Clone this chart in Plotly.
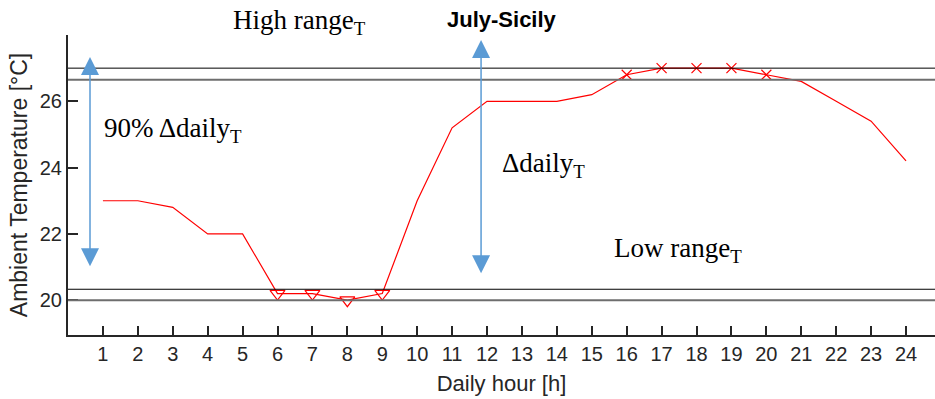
import plotly.graph_objects as go

hours = list(range(1, 25))
temps = [23.0, 23.0, 22.8, 22.0, 22.0, 20.2, 20.2, 20.0, 20.2, 23.0, 25.2, 26.0,
         26.0, 26.0, 26.2, 26.8, 27.0, 27.0, 27.0, 26.8, 26.6, 26.0, 25.4, 24.2]
low_hours = [6, 7, 8, 9]
high_hours = [16, 17, 18, 19, 20]
band_black = [27.0, 20.33]
band_gray = [26.65, 20.0]
arrow_x = [0.63, 11.83]
arrow_top = [27.34, 27.85]
arrow_bottom = [20.98, 20.77]
ytick_vals = [20, 22, 24, 26]

low_vals = [temps[h - 1] for h in low_hours]
high_vals = [temps[h - 1] for h in high_hours]

fig = go.Figure()
fig.add_trace(go.Scatter(x=hours, y=temps, mode="lines",
                         line=dict(color="#FF0000", width=1.2), showlegend=False))
fig.add_trace(go.Scatter(x=low_hours, y=low_vals, mode="markers",
                         marker=dict(symbol="triangle-down-open", size=13,
                                     color="#FF0000", line=dict(width=1.2, color="#FF0000")),
                         showlegend=False))
fig.add_trace(go.Scatter(x=high_hours, y=high_vals, mode="markers",
                         marker=dict(symbol="x-thin-open", size=10,
                                     color="#FF0000", line=dict(width=1.2, color="#FF0000")),
                         showlegend=False))

for v in band_black:
    fig.add_shape(type="line", xref="paper", x0=0, x1=1, yref="y", y0=v, y1=v,
                  line=dict(color="#000000", width=1))
for v in band_gray:
    fig.add_shape(type="line", xref="paper", x0=0, x1=1, yref="y", y0=v, y1=v,
                  line=dict(color="#6E6E6E", width=2))

for ax_, top, bot in zip(arrow_x, arrow_top, arrow_bottom):
    fig.add_annotation(x=ax_, y=top, ax=ax_, ay=bot, xref="x", yref="y",
                       axref="x", ayref="y", showarrow=True, text="",
                       arrowhead=2, startarrowhead=2, arrowsize=2.4, startarrowsize=2.4,
                       arrowwidth=1.5, arrowcolor="#5B9BD5", arrowside="end+start")

serif = dict(family="Liberation Serif", size=27, color="#000000")
texts_in = [
    ("90% \u0394daily<sub>T</sub>", 0.97, 25.14),
    ("\u0394daily<sub>T</sub>", 12.38, 24.08),
    ("Low range<sub>T</sub>", 15.59, 21.52),
]
for t, x, y in texts_in:
    fig.add_annotation(x=x, y=y, xref="x", yref="y", text=t, showarrow=False,
                       xanchor="left", yanchor="middle", font=serif)

fig.add_annotation(x=4.67, xref="x", y=1.043, yref="paper", text="High range<sub>T</sub>",
                   showarrow=False, xanchor="left", yanchor="middle", font=serif)

fig.add_annotation(x=0.5, xref="paper", y=1.05, yref="paper", text="<b>July-Sicily</b>",
                   showarrow=False, xanchor="center", yanchor="middle",
                   font=dict(family="Liberation Sans", size=22, color="#000000"))

axis_col = "#262626"
fig.update_layout(
    width=935, height=399,
    margin=dict(l=68, r=0, t=35, b=64),
    plot_bgcolor="white", paper_bgcolor="white",
    font=dict(family="Liberation Sans", size=20, color=axis_col),
    xaxis=dict(range=[0, 24.83], tickvals=hours, ticks="inside", ticklen=9,
               tickwidth=2, tickcolor=axis_col, showline=True, linewidth=2,
               linecolor=axis_col, showgrid=False, zeroline=False,
               title=dict(text="Daily hour [h]", font=dict(size=22), standoff=12)),
    yaxis=dict(range=[18.95, 28.0], tickvals=ytick_vals, ticks="inside", ticklen=10,
               tickwidth=2, tickcolor=axis_col, showline=True, linewidth=2,
               linecolor=axis_col, showgrid=False, zeroline=False,
               title=dict(text="Ambient Temperature [\u00b0C]", font=dict(size=23), standoff=6)),
)

fig.write_html("out.html")
